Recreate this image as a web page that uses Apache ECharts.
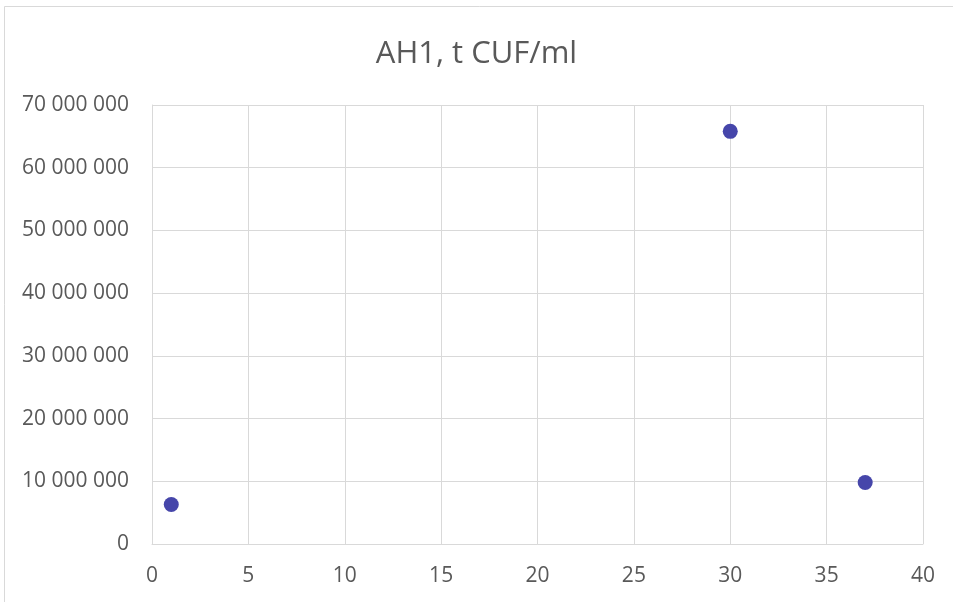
<!DOCTYPE html>
<html>
<head>
<meta charset="utf-8">
<script src="https://cdn.jsdelivr.net/npm/echarts@6/dist/echarts.min.js"></script>
<style>
html,body{margin:0;padding:0;background:#fff;}
#c{width:953px;height:602px;}
</style>
</head>
<body>
<div id="c"></div>
<script>
var titleText = "AH1, t CUF/ml";
var xValues = [1, 30, 37];
var yValues = [6300000, 65800000, 9800000];

var points = xValues.map(function (x, i) { return [x, yValues[i]]; });

function fmt(v) {
  return String(v).replace(/\B(?=(\d{3})+(?!\d))/g, " ");
}

var chart = echarts.init(document.getElementById('c'), null, {renderer: 'canvas'});
chart.setOption({
  backgroundColor: '#fff',
  animation: false,
  title: {
    text: titleText,
    left: 'center',
    top: 34,
    textStyle: {fontFamily: 'Open Sans', fontSize: 31, fontWeight: 'normal', color: '#595959'}
  },
  graphic: [{
    type: 'rect',
    shape: {x: 4.5, y: 6.5, width: 1000, height: 1000},
    style: {fill: null, stroke: '#d9d9d9', lineWidth: 1},
    silent: true,
    z: -1
  }],
  grid: {left: 152, right: 30, top: 105, bottom: 58},
  xAxis: {
    type: 'value',
    min: 0, max: 40, interval: 5,
    axisLine: {show: true, lineStyle: {color: '#d9d9d9', width: 1}},
    axisTick: {show: false},
    splitLine: {show: true, lineStyle: {color: '#d9d9d9', width: 1}},
    axisLabel: {color: '#595959', fontFamily: 'Open Sans', fontSize: 21, margin: 22}
  },
  yAxis: {
    type: 'value',
    min: 0, max: 70000000, interval: 10000000,
    axisLine: {show: true, lineStyle: {color: '#d9d9d9', width: 1}},
    axisTick: {show: false},
    splitLine: {show: true, lineStyle: {color: '#d9d9d9', width: 1}},
    axisLabel: {color: '#595959', fontFamily: 'Open Sans', fontSize: 21, margin: 23, formatter: fmt}
  },
  series: [{
    type: 'scatter',
    data: points,
    symbol: 'circle',
    symbolSize: 15,
    itemStyle: {color: '#4646AA', opacity: 1}
  }]
});
</script>
</body>
</html>
